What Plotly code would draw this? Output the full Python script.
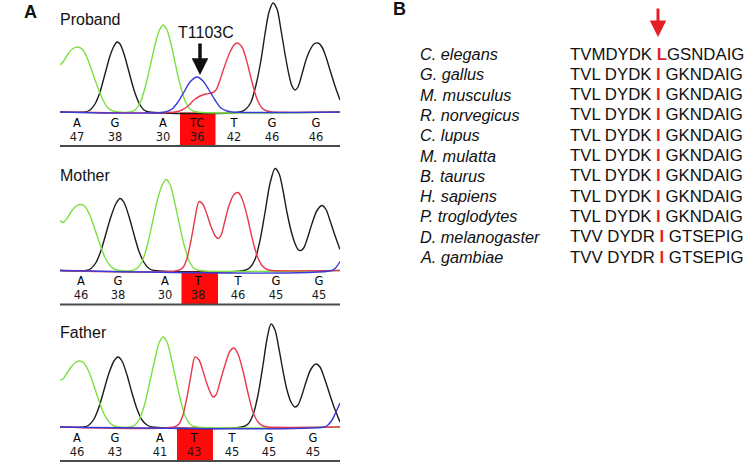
import plotly.graph_objects as go

# ---------------- data: chromatogram traces (scan position, signal) ----------------
# Proband
PRO_A = [(0,47),(3,50),(8,58),(13,63.5),(18,65),(23,62),(28,52),(33,38),(38,24),(43,12),(48,4),(53,1),(58,0),
         (70,0),(75,2),(80,9),(85,24),(90,45),(95,67),(99,81),(103,87),(107,82),(111,68),(116,45),(121,24),(126,9),(131,2),(137,0),(280,0)]
PRO_G = [(0,0),(25,0),(30,2),(35,8),(40,20),(45,38),(50,56),(54,66),(57,70),(60,68),(64,58),(69,40),(74,22),(79,9),(84,2),(89,0),
         (180,0),(186,3),(191,10),(196,27),(201,52),(205,78),(209,100),(213,109),(217,103),(221,82),(225,58),(229,37),(232,26),
         (235,22),(238,25),(242,38),(246,52),(250,62),(254,68),(258,69),(262,65),(266,55),(270,42),(275,26),(280,12)]
PRO_T = [(0,0),(115,0),(122,2),(128,6),(134,12),(140,16),(146,18),(152,19),(156,22),(160,32),(165,47),(170,60),(174,67),(177,69),
         (182,65),(187,50),(192,30),(197,13),(202,4),(207,1),(212,0),(280,0)]
PRO_C = [(0,0),(105,0),(112,3),(118,10),(124,20),(130,30),(137,35),(143,31),(149,22),(155,12),(161,4),(167,1),(172,0),(280,0)]

# Mother
MOT_A = [(0,50),(3,48),(7,52),(12,60),(17,65),(21,66),(25,64),(30,55),(35,41),(40,26),(45,13),(50,5),(55,1),(60,0),
         (72,0),(77,2),(82,9),(87,24),(92,46),(97,69),(102,85),(106,91),(110,86),(114,71),(119,48),(124,26),(129,10),(134,2),(140,0),(280,0)]
MOT_G = [(0,0),(26,0),(31,2),(36,8),(41,20),(46,37),(51,54),(56,67),(60,72),(64,68),(69,54),(74,36),(79,19),(84,8),(89,2),(94,0),
         (184,0),(190,3),(195,11),(200,30),(205,58),(210,87),(215,102),(219,97),(223,80),(227,58),(231,40),(235,27),(238,21),
         (241,20),(244,23),(248,34),(252,47),(257,60),(262,65),(266,61),(270,50),(275,35),(280,21)]
MOT_T = [(0,0),(118,0),(123,3),(127,12),(131,30),(135,52),(139,69),(143,66),(147,56),(151,44),(155,35),(158,32),(161,35),
         (165,50),(169,65),(174,76),(178,78),(182,72),(187,55),(192,33),(197,15),(202,5),(207,1),(212,0),(280,0)]
MOT_C = [(0,0),(272,0),(276,3),(280,9)]

# Father
FAT_A = [(0,47),(3,48),(7,54),(12,61),(16,65),(20,66),(24,64),(29,55),(34,41),(39,26),(44,13),(49,5),(54,1),(59,0),
         (70,0),(75,2),(80,9),(85,24),(90,46),(95,68),(99,84),(103,90),(107,85),(111,70),(116,47),(121,25),(126,9),(131,2),(137,0),(280,0)]
FAT_G = [(0,0),(24,0),(29,2),(34,8),(39,20),(44,37),(49,54),(54,66),(58,70),(62,66),(67,52),(72,34),(77,18),(82,7),(87,2),(92,0),
         (182,0),(188,3),(193,12),(198,32),(203,62),(207,88),(211,103),(215,97),(219,78),(223,56),(227,37),(231,25),(235,20),
         (238,22),(242,32),(246,45),(251,58),(256,63),(260,60),(264,50),(269,35),(274,20),(280,5)]
FAT_T = [(0,0),(114,0),(119,3),(123,12),(127,30),(131,52),(135,70),(139,67),(143,56),(147,43),(151,33),(153,30),(156,32),
         (160,45),(165,62),(170,76),(174,79),(178,73),(183,56),(188,34),(193,15),(198,5),(203,1),(208,0),(280,0)]
FAT_C = [(0,0),(264,0),(268,2),(272,7),(276,15),(280,24)]

# Base calls
PRO_BASES = ["A", "G", "A", "TC", "T", "G", "G"]
PRO_POS = [17, 55, 103, 137, 174, 212, 256]
PRO_QUAL = [47, 38, 30, 36, 42, 46, 46]
MOT_BASES = ["A", "G", "A", "T", "T", "G", "G"]
MOT_POS = [21, 58, 105, 138, 178, 216, 259]
MOT_QUAL = [46, 38, 30, 38, 46, 45, 45]
FAT_BASES = ["A", "G", "A", "T", "T", "G", "G"]
FAT_POS = [17, 55, 100, 134, 172, 209, 253]
FAT_QUAL = [46, 43, 41, 43, 45, 45, 45]
HIGHLIGHT = 3
MUTATION_LABEL = "T1103C"

# Alignment (panel B)
SPECIES = ["C. elegans", "G. gallus", "M. musculus", "R. norvegicus", "C. lupus", "M. mulatta",
           "B. taurus", "H. sapiens", "P. troglodytes", "D. melanogaster", "A. gambiae"]
SEQ_PRE = ["TVMDYDK ", "TVL DYDK ", "TVL DYDK ", "TVL DYDK ", "TVL DYDK ", "TVL DYDK ",
           "TVL DYDK ", "TVL DYDK ", "TVL DYDK ", "TVV DYDR ", "TVV DYDR "]
SEQ_RES = ["L", "I", "I", "I", "I", "I", "I", "I", "I", "I", "I"]
SEQ_POST = ["GSNDAIG", " GKNDAIG", " GKNDAIG", " GKNDAIG", " GKNDAIG", " GKNDAIG",
            " GKNDAIG", " GKNDAIG", " GKNDAIG", " GTSEPIG", " GTSEPIG"]

# ---------------- styling / layout ----------------
W, H = 746, 464
FONT = "Liberation Sans, Arial, sans-serif"
COLORS = {"A": "#7be040", "G": "#1c1c1c", "T": "#e8384f", "C": "#3a3ad8"}
RED = "#e31e24"

samples = [
    dict(name="Proband", A=PRO_A, G=PRO_G, T=PRO_T, C=PRO_C, bases=PRO_BASES, pos=PRO_POS, qual=PRO_QUAL,
         top=0, base=112, label_y=19),
    dict(name="Mother", A=MOT_A, G=MOT_G, T=MOT_T, C=MOT_C, bases=MOT_BASES, pos=MOT_POS, qual=MOT_QUAL,
         top=150, base=270.5, label_y=175),
    dict(name="Father", A=FAT_A, G=FAT_G, T=FAT_T, C=FAT_C, bases=FAT_BASES, pos=FAT_POS, qual=FAT_QUAL,
         top=306.5, base=427, label_y=332),
]

fig = go.Figure()
layout = dict(width=W, height=H, margin=dict(l=0, r=0, t=0, b=0), showlegend=False,
              paper_bgcolor="white", plot_bgcolor="rgba(0,0,0,0)")
shapes, annotations = [], []

X0, X1 = 60, 340
for i, s in enumerate(samples, start=1):
    sid = "" if i == 1 else str(i)
    xa, ya = f"x{sid}", f"y{sid}"
    bottom = s["base"] + 36
    layout[f"xaxis{sid}"] = dict(domain=[X0 / W, X1 / W], range=[0, 280], visible=False, fixedrange=True,
                                 anchor=ya)
    layout[f"yaxis{sid}"] = dict(domain=[1 - bottom / H, 1 - s["top"] / H],
                                 range=[s["base"] - bottom, s["base"] - s["top"]],
                                 visible=False, fixedrange=True, anchor=xa)
    for ch in ["G", "A", "T", "C"]:
        pts = s[ch]
        fig.add_trace(go.Scatter(x=[p[0] for p in pts], y=[p[1] for p in pts], mode="lines",
                                 line=dict(color=COLORS[ch], width=1.4, shape="spline", smoothing=0.8),
                                 xaxis=xa, yaxis=ya, hoverinfo="skip"))
    pos = s["pos"]
    h = HIGHLIGHT
    shapes.append(dict(type="rect", xref=xa, yref=ya, x0=(pos[h - 1] + pos[h]) / 2, x1=(pos[h] + pos[h + 1]) / 2,
                       y0=-0.5, y1=-34, fillcolor="#ff0a0a", line=dict(width=0), layer="below"))
    shapes.append(dict(type="line", xref=f"{xa} domain", yref=ya, x0=0, x1=1, y0=-34, y1=-34,
                       line=dict(color="#4a4a4a", width=2)))
    fig.add_trace(go.Scatter(x=pos, y=[-12] * len(pos), mode="text", text=s["bases"],
                             textfont=dict(family="DejaVu Sans", size=11.5, color="#000"),
                             xaxis=xa, yaxis=ya, hoverinfo="skip", cliponaxis=False))
    fig.add_trace(go.Scatter(x=pos, y=[-26] * len(pos), mode="text", text=[str(q) for q in s["qual"]],
                             textfont=dict(family="DejaVu Sans", size=11.5, color="#1a1a1a"),
                             xaxis=xa, yaxis=ya, hoverinfo="skip", cliponaxis=False))
    annotations.append(dict(text=s["name"], xref="paper", x=58 / W, xanchor="left", yref=ya,
                            y=s["base"] - s["label_y"], yanchor="middle", showarrow=False,
                            font=dict(family=FONT, size=16, color="#111")))

# mutation label + arrow on proband
annotations.append(dict(text=MUTATION_LABEL, xref="x", x=PRO_POS[HIGHLIGHT] + 9, yref="y", y=80,
                        xanchor="center", yanchor="middle", showarrow=False,
                        font=dict(family=FONT, size=16, color="#111")))
annotations.append(dict(text="", xref="x", x=PRO_POS[HIGHLIGHT] + 3, yref="y", y=37, showarrow=True,
                        ax=0, ay=-33, arrowhead=2, arrowwidth=3.5, arrowsize=0.95, arrowcolor="#111"))

# panel letters
annotations.append(dict(text="<b>A</b>", xref="paper", yref="paper", x=30 / W, y=1 - 12 / H,
                        xanchor="center", yanchor="middle", showarrow=False,
                        font=dict(family=FONT, size=18, color="#111")))
annotations.append(dict(text="<b>B</b>", xref="paper", yref="paper", x=399 / W, y=1 - 9 / H,
                        xanchor="center", yanchor="middle", showarrow=False,
                        font=dict(family=FONT, size=18, color="#111")))

# panel B: alignment axis (row index)
ROW0, ROWSTEP = 54, 20.3
layout["xaxis4"] = dict(domain=[400 / W, 1], range=[0, 1], visible=False, fixedrange=True, anchor="y4")
layout["yaxis4"] = dict(domain=[0, 1], range=[(H - ROW0) / ROWSTEP, -ROW0 / ROWSTEP], visible=False,
                        fixedrange=True, anchor="x4")
for r, sp in enumerate(SPECIES):
    annotations.append(dict(text=f"<i>{sp}</i>", xref="paper", x=418 / W, xanchor="left", yref="y4", y=r,
                            yanchor="middle", showarrow=False, font=dict(family=FONT, size=16.3, color="#111")))
    seq = f"{SEQ_PRE[r]}<span style='color:{RED}'><b>{SEQ_RES[r]}</b></span>{SEQ_POST[r]}"
    annotations.append(dict(text=seq, xref="paper", x=568 / W, xanchor="left", yref="y4", y=r,
                            yanchor="middle", showarrow=False, font=dict(family=FONT, size=16.8, color="#111")))
annotations.append(dict(text="", xref="paper", x=658 / W, yref="y4", y=(37 - ROW0) / ROWSTEP, showarrow=True,
                        ax=0, ay=-30, arrowhead=2, arrowwidth=3, arrowsize=1.1, arrowcolor=RED))

layout["shapes"] = shapes
layout["annotations"] = annotations
fig.update_layout(**layout)
fig.write_html("out.html", config={"displayModeBar": False},
               post_script="document.body.style.margin='0';document.body.style.padding='0';"
                           "document.documentElement.style.overflow='hidden';")
